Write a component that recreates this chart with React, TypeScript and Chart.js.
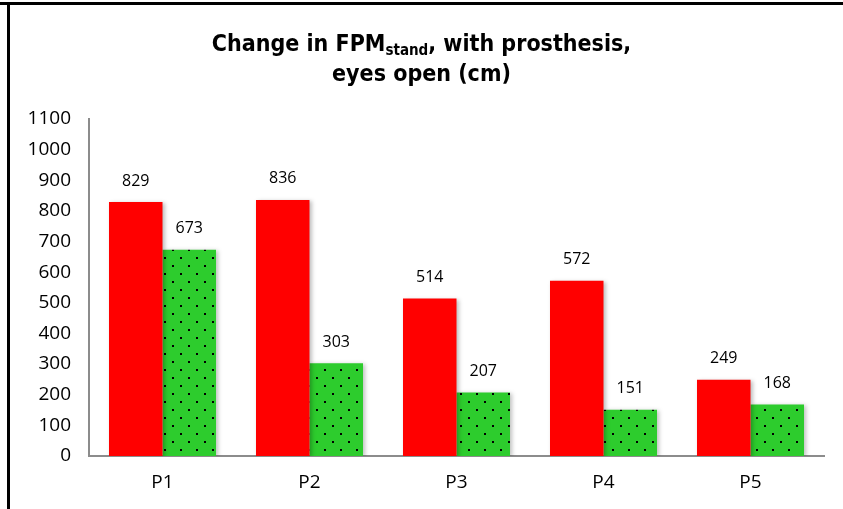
import React, { useEffect, useRef } from "react";
import { Chart, registerables } from "chart.js";

Chart.register(...registerables);

const categories = ["P1", "P2", "P3", "P4", "P5"];
const redValues = [829, 836, 514, 572, 249];
const greenValues = [673, 303, 207, 151, 168];
const yTicks = [0, 100, 200, 300, 400, 500, 600, 700, 800, 900, 1000, 1100];

const RED = "#ff0000";
const GREEN = "#2dcc2d";

function makeDotPattern(ctx: CanvasRenderingContext2D): CanvasPattern | string {
  const c = document.createElement("canvas");
  c.width = 16;
  c.height = 16;
  const p = c.getContext("2d");
  if (!p) return GREEN;
  p.fillStyle = GREEN;
  p.fillRect(0, 0, 16, 16);
  p.fillStyle = "#000000";
  p.fillRect(4, 1, 2, 2);
  p.fillRect(12, 9, 2, 2);
  return ctx.createPattern(c, "repeat") || GREEN;
}

const valueLabels = {
  id: "valueLabels",
  afterDatasetsDraw(chart: any) {
    const ctx = chart.ctx;
    ctx.save();
    ctx.fillStyle = "#000000";
    ctx.font = "16px 'Open Sans'";
    ctx.textAlign = "center";
    ctx.textBaseline = "middle";
    chart.data.datasets.forEach((ds: any, i: number) => {
      const meta = chart.getDatasetMeta(i);
      meta.data.forEach((bar: any, j: number) => {
        ctx.fillText(String(ds.data[j]), bar.x, bar.y - 21);
      });
    });
    ctx.restore();
  },
};

const barShadow = {
  id: "barShadow",
  beforeDatasetsDraw(chart: any) {
    const ctx = chart.ctx;
    ctx.save();
    ctx.shadowColor = "rgba(0,0,0,0.25)";
    ctx.shadowBlur = 4;
    ctx.shadowOffsetX = 2;
    ctx.shadowOffsetY = 1;
  },
  afterDatasetsDraw(chart: any) {
    chart.ctx.restore();
  },
};

export default function App() {
  const ref = useRef<HTMLCanvasElement>(null);

  useEffect(() => {
    const canvas = ref.current;
    if (!canvas) return;
    const ctx = canvas.getContext("2d");
    if (!ctx) return;
    const pattern = makeDotPattern(ctx);
    const chart = new Chart(canvas, {
      type: "bar",
      data: {
        labels: categories,
        datasets: [
          {
            label: "Series 1",
            data: redValues,
            backgroundColor: RED,
            borderWidth: 0,
            barPercentage: 1,
            categoryPercentage: 0.728,
          },
          {
            label: "Series 2",
            data: greenValues,
            backgroundColor: pattern as any,
            borderWidth: 0,
            barPercentage: 1,
            categoryPercentage: 0.728,
          },
        ],
      },
      options: {
        responsive: false,
        animation: false,
        layout: { padding: { left: 9, right: 19, top: 119, bottom: 8 } },
        plugins: {
          legend: { display: false },
          title: { display: false },
          tooltip: { enabled: false },
        },
        scales: {
          x: {
            grid: { display: false, drawTicks: false },
            border: { display: true, color: "#8c8c8c", width: 2 },
            ticks: {
              color: "#000000",
              font: { family: "'Open Sans'", size: 19 },
              padding: 15,
            },
            afterFit: (s: any) => {
              s.height = 45;
            },
          },
          y: {
            min: 0,
            max: 1100,
            afterBuildTicks: (s: any) => {
              s.ticks = yTicks.map((v) => ({ value: v }));
            },
            grid: { display: false, drawTicks: false },
            border: { display: true, color: "#8c8c8c", width: 2 },
            ticks: {
              color: "#000000",
              font: { family: "'Open Sans'", size: 19 },
              padding: 18,
              callback: (v: any) => String(v),
            },
            afterFit: (s: any) => {
              s.width = 80;
            },
          },
        },
      },
      plugins: [barShadow, valueLabels],
    });
    return () => chart.destroy();
  }, []);

  return (
    <div
      style={{
        position: "fixed",
        left: 0,
        top: 0,
        width: 843,
        height: 509,
        background: "#ffffff",
        overflow: "hidden",
      }}
    >
      <div
        style={{
          position: "absolute",
          left: 0,
          top: 2,
          width: 843,
          height: 3,
          background: "#000000",
        }}
      />
      <div
        style={{
          position: "absolute",
          left: 7,
          top: 2,
          width: 3,
          height: 507,
          background: "#000000",
        }}
      />
      <canvas
        ref={ref}
        width={843}
        height={509}
        style={{ position: "absolute", left: 0, top: 0, width: 843, height: 509 }}
      />
      <div
        style={{
          position: "absolute",
          left: 0,
          top: 28,
          width: 843,
          textAlign: "center",
          fontFamily: "'DejaVu Sans Condensed', 'DejaVu Sans', sans-serif",
          fontWeight: "bold",
          fontSize: 23,
          lineHeight: "30px",
          color: "#000000",
        }}
      >
        Change in FPM
        <sub style={{ fontSize: 15, verticalAlign: "-4px", lineHeight: 0 }}>stand</sub>, with prosthesis,
        <br />
        eyes open (cm)
      </div>
    </div>
  );
}
